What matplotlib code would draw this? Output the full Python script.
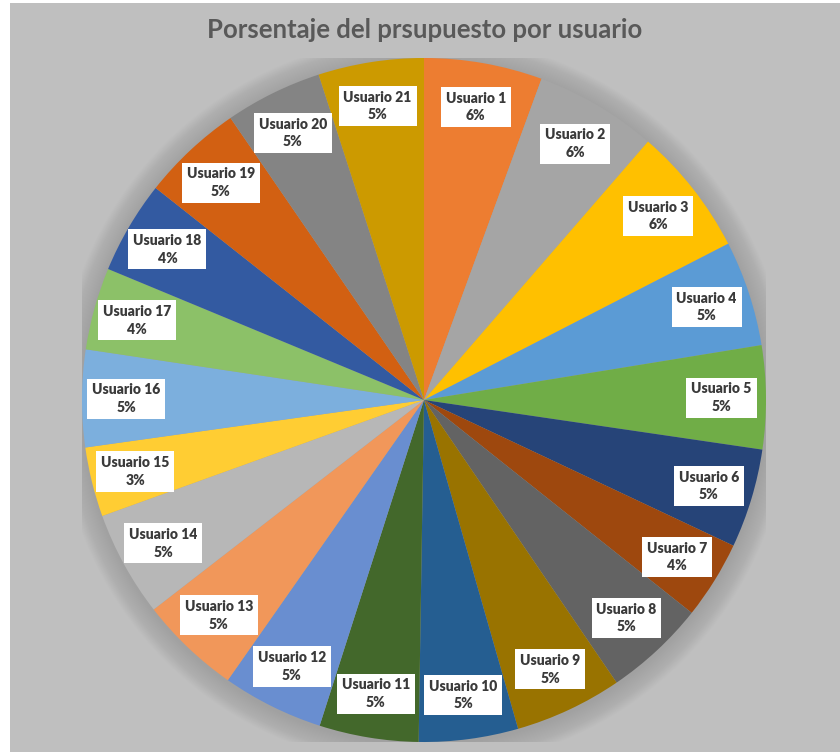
import numpy as np
import matplotlib as mpl
mpl.use("Agg")
from matplotlib import pyplot as plt
from matplotlib.patches import Circle

# budget share per user
users = ["Usuario %d" % i for i in range(1, 22)]
shares = [5.6, 5.8, 6.1, 5.0, 4.9, 4.7, 3.7, 4.8, 5.1, 4.7, 4.7,
          4.8, 4.8, 5.0, 3.3, 4.6, 3.9, 4.4, 4.8, 4.6, 5.0]
colors = ["#ED7D31", "#A5A5A5", "#FFC000", "#5B9BD5", "#70AD47", "#264478",
          "#9E480E", "#636363", "#997300", "#255E91", "#43682B", "#698ED0",
          "#F1975A", "#B7B7B7", "#FFCD33", "#7CAFDD", "#8CC168", "#335AA1",
          "#D26012", "#848484", "#CC9A00"]
title = "Porsentaje del prsupuesto por usuario"

plt.rcParams['font.family'] = ['Lato', 'DejaVu Sans']

fig = plt.figure(figsize=(8.4, 7.52), dpi=100)
fig.patch.set_facecolor("white")
# grey chart area with a thin white strip on the left/top
fig.add_artist(plt.Rectangle((10/840, 0), 1, 1 - 3/752,
                             transform=fig.transFigure, fc="#BFBFBF", ec="none", zorder=0))

ax = fig.add_axes([(424-342)/840, (752-400-342)/752, 684/840, 684/752])
ax.set_facecolor("none")

# soft shadow round the pie
n = 22
for k in range(n):
    ax.add_patch(Circle((0.0, -0.006), 1.0 + 0.0032*(n-k), fc="#707070",
                        ec="none", alpha=0.017, zorder=0))

wedges, _ = ax.pie(shares, colors=colors, startangle=90, counterclock=False,
                   radius=1.0, wedgeprops=dict(linewidth=0))
for w in wedges:
    w.set_zorder(2)

total = float(sum(shares))
for w, name, v in zip(wedges, users, shares):
    mid = np.deg2rad((w.theta1 + w.theta2) / 2.0)
    r = 0.87
    ax.text(r*np.cos(mid), r*np.sin(mid), "%s\n%.0f%%" % (name, 100*v/total),
            ha="center", va="center", fontsize=10, fontweight="heavy",
            color="#3a3a3a", linespacing=1.4, zorder=5,
            bbox=dict(boxstyle="square,pad=0.35", fc="white", ec="none"))

ax.set_xlim(-1, 1)
ax.set_ylim(-1, 1)
ax.set_aspect("equal")
ax.axis("off")

fig.text(425/840, 1 - 30/752, title, ha="center", va="center",
         fontsize=18.5, fontweight="bold", color="#595959")

fig.savefig("out.png", dpi=100)
